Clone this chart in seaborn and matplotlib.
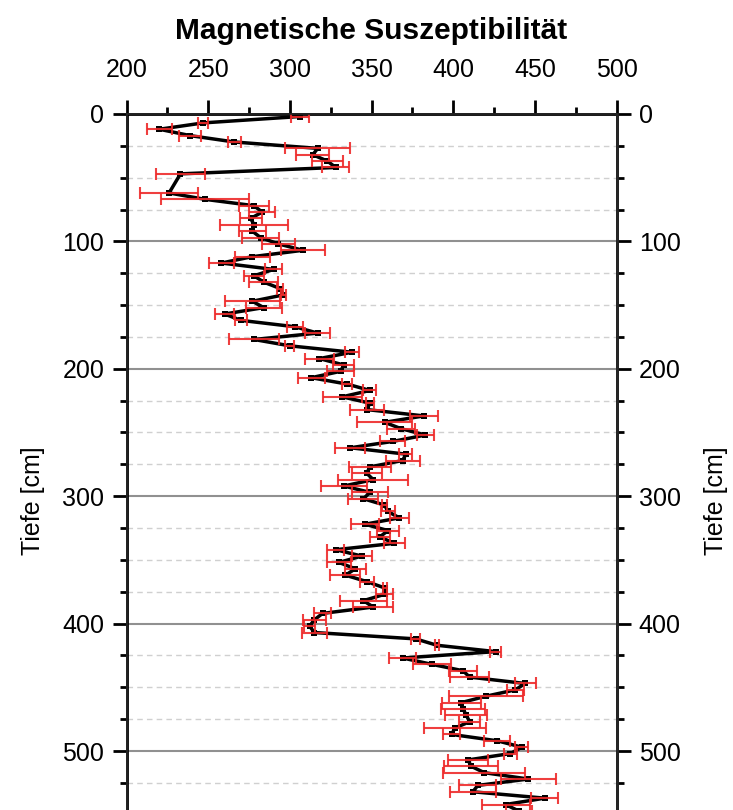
import pandas as pd
import seaborn as sns
import matplotlib.pyplot as plt
from matplotlib.ticker import MultipleLocator

# depth of each sample [cm]
depth = [2, 7, 12, 17, 22, 27, 32, 37, 42, 47,
         62, 67, 72, 77, 82, 87, 92, 97, 102, 107,
         112, 117, 122, 127, 132, 137, 142, 147, 152, 157,
         162, 167, 172, 177, 182, 187, 192, 197, 202, 207,
         212, 217, 222, 227, 232, 237, 242, 247, 252, 257,
         262, 267, 272, 277, 282, 287, 292, 297, 302, 307,
         312, 317, 322, 327, 332, 337, 342, 347, 352, 357,
         362, 367, 372, 377, 382, 387, 392, 397, 402, 407,
         412, 417, 422, 427, 432, 437, 442, 447, 452, 457,
         462, 467, 472, 477, 482, 487, 492, 497, 502, 507,
         512, 517, 522, 527, 532, 537, 542, 547]

# magnetic susceptibility
chi = [306, 247, 220, 239, 266, 317, 314, 323, 328, 233,
       226, 248, 278, 283, 276, 278, 277, 282, 293, 308,
       277, 258, 290, 278, 284, 294, 296, 277, 284, 260,
       270, 303, 317, 278, 300, 338, 318, 333, 331, 313,
       335, 349, 332, 349, 347, 382, 358, 368, 383, 363,
       337, 371, 369, 349, 347, 351, 333, 349, 345, 358,
       360, 367, 346, 360, 355, 364, 328, 344, 330, 340,
       334, 347, 358, 358, 345, 351, 320, 315, 312, 315,
       377, 390, 426, 369, 387, 406, 410, 444, 438, 420,
       405, 406, 408, 410, 401, 399, 427, 442, 435, 409,
       411, 419, 446, 415, 412, 456, 432, 440]

# error (half width)
chi_err = [5.5, 3, 7.5, 6.8, 4.2, 20, 10, 9.6, 8.4, 14.8,
           18, 26.7, 8.9, 7.9, 6.6, 21, 8.4, 11.5, 10.2, 13.5,
           10.7, 7.8, 5.3, 6, 9, 2, 1.6, 16.7, 11, 5.6,
           3.6, 5, 7.7, 15.5, 2.8, 4, 9, 6.5, 8.2, 8.2,
           3, 4, 12, 2.7, 10.3, 8.4, 16.7, 8.6, 5, 7.7,
           9.2, 4, 10.4, 12.7, 9.3, 21.4, 14, 11, 9.2, 1.6,
           4.3, 5.8, 8.7, 6.9, 6, 6.3, 5.1, 6, 7.5, 6.5,
           9.2, 4.3, 1.3, 5.4, 14.5, 12.2, 5.3, 7.1, 3.1, 7.9,
           2.9, 1.3, 3.4, 8.4, 11.6, 8.8, 11.7, 6.4, 5.1, 22.4,
           11.7, 13.3, 12.9, 6.6, 19.2, 5.3, 8, 3.9, 4, 12.2,
           16.5, 25, 17, 11.2, 14, 8.2, 14.7, 8]

depth_ticks = [0, 100, 200, 300, 400, 500]

df = pd.DataFrame({'Tiefe': depth, 'Chi': chi, 'Err': chi_err})

sns.set_theme(style='ticks')
plt.rcParams['font.family'] = ['Liberation Sans', 'DejaVu Sans']
plt.rcParams['text.color'] = 'black'
plt.rcParams['axes.labelcolor'] = 'black'
plt.rcParams['xtick.color'] = 'black'
plt.rcParams['ytick.color'] = 'black'

fig = plt.figure(figsize=(7.33, 8.10), dpi=100)
ax = fig.add_axes([0.1727, 0.0, 0.6685, 0.8593])

sns.lineplot(data=df, x='Chi', y='Tiefe', orient='y', sort=False, estimator=None,
             color='black', lw=2.5, marker='s', markersize=4.5, markeredgewidth=0,
             ax=ax, zorder=3)
ax.errorbar(df['Chi'], df['Tiefe'], xerr=df['Err'], fmt='none', ecolor='#ee2a2a',
            elinewidth=1.5, capsize=4, capthick=1.5, alpha=0.9, zorder=4)

ax.set_xlim(200, 500)
ax.set_ylim(546.3, 0)

ax.xaxis.tick_top()
ax.xaxis.set_label_position('top')
ax.xaxis.set_major_locator(MultipleLocator(50))
ax.xaxis.set_minor_locator(MultipleLocator(25))
ax.set_yticks(depth_ticks)
ax.yaxis.set_minor_locator(MultipleLocator(25))

ax.grid(which='major', axis='y', color='#909090', lw=1.5)
ax.grid(which='minor', axis='y', color='#d0d0d0', ls=(0, (4, 3)), lw=1)
ax.grid(which='both', axis='x', visible=False)
ax.set_axisbelow(True)

ax.tick_params(which='major', length=10, width=2, labelsize=18, direction='out')
ax.tick_params(which='minor', length=5, width=2, direction='out')
ax.tick_params(axis='x', pad=13)
ax.tick_params(axis='y', pad=6)

ax.set_xlabel('Magnetische Suszeptibilität', fontweight='bold', fontsize=21.5, labelpad=14)
ax.set_ylabel('Tiefe [cm]', fontsize=18)
ax.yaxis.set_label_coords(-0.166, 0.445)

for side in ['left', 'top', 'right']:
    ax.spines[side].set_linewidth(2)
    ax.spines[side].set_color('black')
ax.spines['bottom'].set_visible(False)

# right axis with the same depth scale
ax2 = ax.twinx()
ax2.set_ylim(ax.get_ylim())
ax2.set_yticks(depth_ticks)
ax2.yaxis.set_minor_locator(MultipleLocator(25))
ax2.tick_params(which='major', length=10, width=2, labelsize=18, direction='out', pad=6)
ax2.tick_params(which='minor', length=5, width=2, direction='out')
ax2.spines['bottom'].set_visible(False)
ax2.spines['right'].set_linewidth(2)
ax2.set_ylabel('Tiefe [cm]', fontsize=18)
ax2.yaxis.set_label_coords(1.178, 0.445)

plt.savefig('out.png', dpi=100)
plt.close()
